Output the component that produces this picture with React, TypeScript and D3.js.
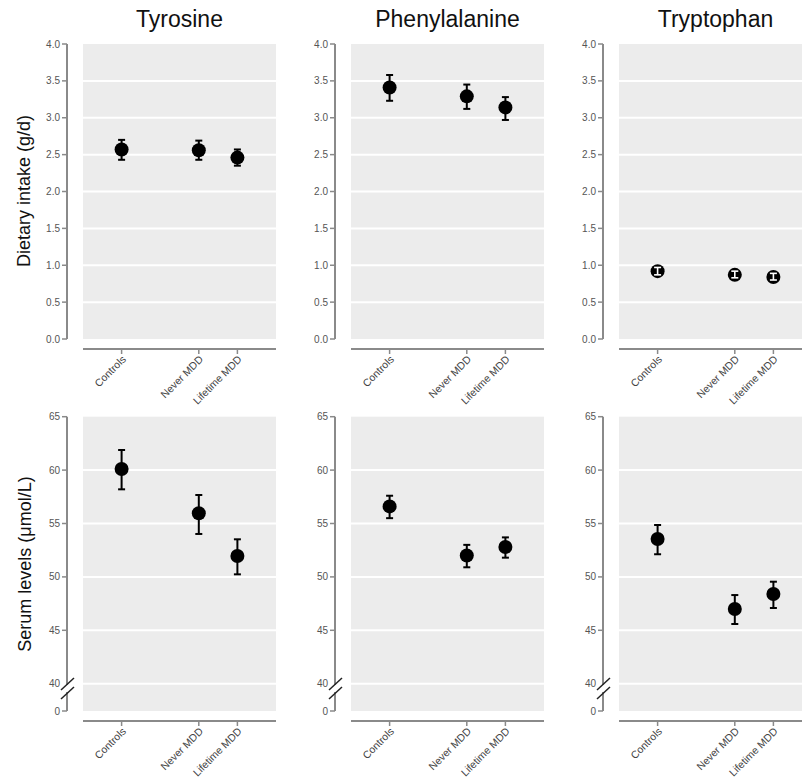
import React from 'react';
import * as d3 from 'd3';

// groups along the x axis
const groups = ['Controls', 'Never MDD', 'Lifetime MDD'];
const groupPos = [1, 3, 4];
const acids = ['Tyrosine', 'Phenylalanine', 'Tryptophan'];

// dietary intake (g/d): mean and error bar ends
const intakeMean = [[2.57, 2.56, 2.46], [3.41, 3.29, 3.14], [0.92, 0.87, 0.84]];
const intakeLo = [[2.43, 2.43, 2.35], [3.23, 3.12, 2.97], [0.87, 0.83, 0.8]];
const intakeHi = [[2.7, 2.69, 2.57], [3.58, 3.45, 3.28], [0.97, 0.92, 0.89]];

// serum levels (umol/L)
const serumMean = [[60.1, 55.96, 51.96], [56.6, 52.0, 52.8], [53.55, 47.0, 48.4]];
const serumLo = [[58.2, 54.02, 50.24], [55.5, 50.9, 51.8], [52.12, 45.59, 47.09]];
const serumHi = [[61.88, 57.67, 53.52], [57.6, 53.0, 53.7], [54.86, 48.3, 49.55]];

const intakeTicks = [0, 0.5, 1, 1.5, 2, 2.5, 3, 3.5, 4];
const serumTicks = [40, 45, 50, 55, 60, 65];

const W = 802, H = 780;
const panelStep = 268;
const grayW = 193;
const font = 'Liberation Sans, Arial, sans-serif';
const axisCol = '#8a8a8a';
const tickTxt = '#555';
const bg = '#ececec';
const R = 7;

function Points({ x, y, mean, lo, hi }) {
  return (
    <g>
      {mean.map((m, i) => {
        const cx = x(groupPos[i]);
        const yt = y(hi[i]), yb = y(lo[i]);
        const inside = (yb - yt) / 2 < R - 1;
        return (
          <g key={i}>
            {!inside && (
              <g stroke="#000" strokeWidth={2}>
                <line x1={cx} x2={cx} y1={yt} y2={yb} />
                <line x1={cx - 3.5} x2={cx + 3.5} y1={yt} y2={yt} />
                <line x1={cx - 3.5} x2={cx + 3.5} y1={yb} y2={yb} />
              </g>
            )}
            <circle cx={cx} cy={y(m)} r={R} fill="#000" />
            {inside && (
              <g stroke="#fff" strokeWidth={1.6}>
                <line x1={cx} x2={cx} y1={yt} y2={yb} />
                <line x1={cx - 3.5} x2={cx + 3.5} y1={yt} y2={yt} />
                <line x1={cx - 3.5} x2={cx + 3.5} y1={yb} y2={yb} />
              </g>
            )}
          </g>
        );
      })}
    </g>
  );
}

function XAxis({ x, y0, left }) {
  return (
    <g>
      <line x1={left} x2={left + grayW} y1={y0} y2={y0} stroke={axisCol} strokeWidth={2} />
      {groups.map((g, i) => {
        const gx = x(groupPos[i]);
        return (
          <g key={g}>
            <line x1={gx} x2={gx} y1={y0} y2={y0 + 5} stroke={axisCol} strokeWidth={1.5} />
            <text transform={`translate(${gx + 5},${y0 + 11}) rotate(-45)`} textAnchor="end"
              fontSize={10.5} fill="#444" fontFamily={font}>{g}</text>
          </g>
        );
      })}
    </g>
  );
}

function TopPanel({ k }) {
  const left = 83 + k * panelStep;
  const ax = left - 16;
  const x = d3.scaleLinear().domain([0, 5]).range([left, left + grayW]);
  const y = d3.scaleLinear().domain([0, 4]).range([339, 44]);
  return (
    <g>
      <rect x={left} y={y(4)} width={grayW} height={y(0) - y(4)} fill={bg} />
      {intakeTicks.filter(t => t > 0 && t < 4).map(t => (
        <line key={t} x1={left} x2={left + grayW} y1={y(t)} y2={y(t)} stroke="#fff" strokeWidth={2} />
      ))}
      <line x1={ax} x2={ax} y1={y(4)} y2={y(0)} stroke={axisCol} strokeWidth={2} />
      {intakeTicks.map(t => (
        <g key={t}>
          <line x1={ax - 5} x2={ax} y1={y(t)} y2={y(t)} stroke={axisCol} strokeWidth={1.5} />
          <text x={ax - 7} y={y(t)} dy="0.35em" textAnchor="end" fontSize={10} fill={tickTxt}
            fontFamily={font}>{d3.format('.1f')(t)}</text>
        </g>
      ))}
      <XAxis x={x} y0={349} left={left} />
      <Points x={x} y={y} mean={intakeMean[k]} lo={intakeLo[k]} hi={intakeHi[k]} />
      <text x={left + grayW / 2} y={27} textAnchor="middle" fontSize={23} fontFamily={font}
        fill="#111">{acids[k]}</text>
    </g>
  );
}

function BottomPanel({ k }) {
  const left = 83 + k * panelStep;
  const ax = left - 16;
  const x = d3.scaleLinear().domain([0, 5]).range([left, left + grayW]);
  const y = d3.scaleLinear().domain([40, 65]).range([683.7, 416.7]);
  const zeroY = 711;
  return (
    <g>
      <rect x={left} y={y(65)} width={grayW} height={zeroY - y(65)} fill={bg} />
      {serumTicks.filter(t => t < 65).map(t => (
        <line key={t} x1={left} x2={left + grayW} y1={y(t)} y2={y(t)} stroke="#fff" strokeWidth={2} />
      ))}
      <line x1={ax} x2={ax} y1={y(65)} y2={685} stroke={axisCol} strokeWidth={2} />
      <line x1={ax} x2={ax} y1={692} y2={zeroY} stroke={axisCol} strokeWidth={2} />
      <line x1={ax - 6} x2={ax + 7} y1={690} y2={678} stroke="#222" strokeWidth={1.5} />
      <line x1={ax - 6} x2={ax + 7} y1={699} y2={687} stroke="#222" strokeWidth={1.5} />
      {serumTicks.map(t => (
        <g key={t}>
          {t > 40 && <line x1={ax - 5} x2={ax} y1={y(t)} y2={y(t)} stroke={axisCol} strokeWidth={1.5} />}
          <text x={ax - 7} y={y(t)} dy="0.35em" textAnchor="end" fontSize={10} fill={tickTxt}
            fontFamily={font}>{t}</text>
        </g>
      ))}
      <line x1={ax - 5} x2={ax} y1={zeroY} y2={zeroY} stroke={axisCol} strokeWidth={1.5} />
      <text x={ax - 7} y={zeroY} dy="0.35em" textAnchor="end" fontSize={10} fill={tickTxt}
        fontFamily={font}>0</text>
      <XAxis x={x} y0={721} left={left} />
      <Points x={x} y={y} mean={serumMean[k]} lo={serumLo[k]} hi={serumHi[k]} />
    </g>
  );
}

export default function App() {
  return (
    <svg width={W} height={H} style={{ position: 'absolute', left: 0, top: 0, background: '#fff' }}>
      {acids.map((a, k) => <TopPanel key={a} k={k} />)}
      {acids.map((a, k) => <BottomPanel key={a} k={k} />)}
      <text transform="translate(30,191) rotate(-90)" textAnchor="middle" fontSize={18}
        fontFamily={font} fill="#111">Dietary intake (g/d)</text>
      <text transform="translate(31,564) rotate(-90)" textAnchor="middle" fontSize={18}
        fontFamily={font} fill="#111">Serum levels (μmol/L)</text>
    </svg>
  );
}
